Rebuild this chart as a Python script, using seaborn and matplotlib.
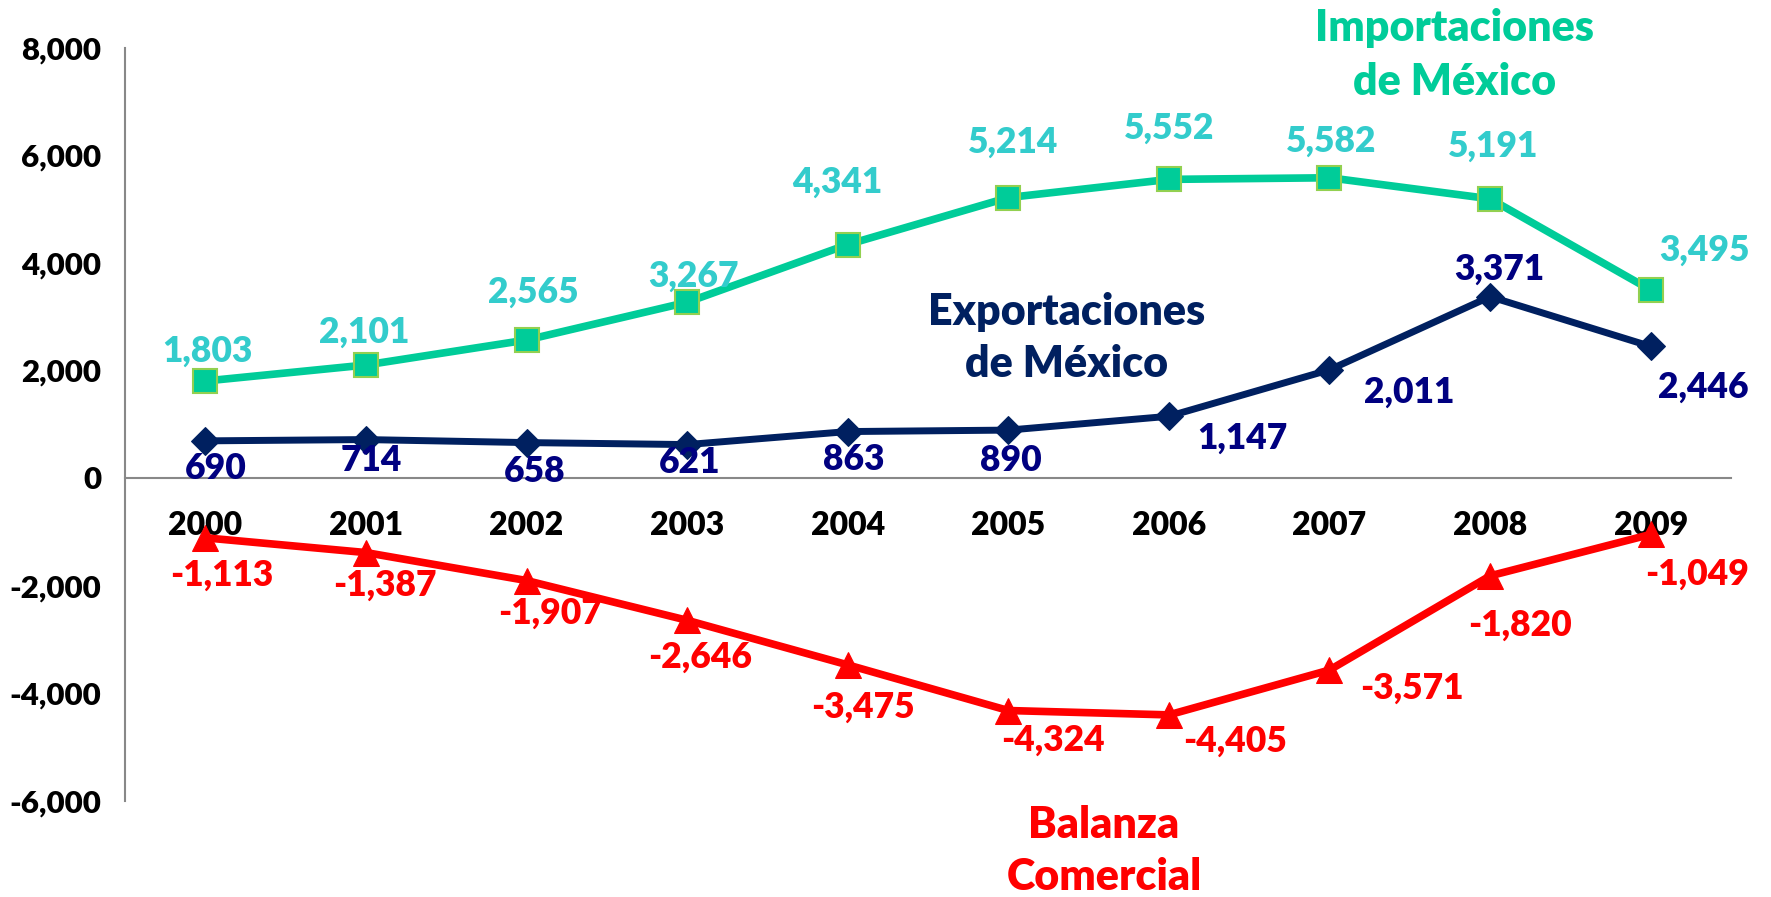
import matplotlib
matplotlib.use("Agg")
import numpy as np
import pandas as pd
import matplotlib.pyplot as plt
import seaborn as sns

# Data (millones de dólares)
years = ["2000", "2001", "2002", "2003", "2004", "2005", "2006", "2007", "2008", "2009"]
importaciones = [1803, 2101, 2565, 3267, 4341, 5214, 5552, 5582, 5191, 3495]
exportaciones = [690, 714, 658, 621, 863, 890, 1147, 2011, 3371, 2446]
balanza = [-1113, -1387, -1907, -2646, -3475, -4324, -4405, -3571, -1820, -1049]

# label offsets in pixels (dx, dy) for each data label
imp_off = [(2, 30), (-2, 33), (7, 48), (6, 26), (-10, 62), (5, 55), (0, 51), (2, 37), (3, 53), (54, 40)]
exp_off = [(10, -28), (5, -21), (8, -29), (3, -18), (6, -28), (3, -30), (73, -22), (80, -22), (9, 27), (53, -41)]
bal_off = [(16, -37), (19, -33), (24, -33), (13, -37), (15, -42), (45, -30), (66, -26), (82, -18), (30, -49), (46, -40)]

sns.set_style("white")
plt.rcParams["font.family"] = ["Lato", "DejaVu Sans"]
plt.rcParams["font.weight"] = "heavy"

GREEN = "#00CC99"
TEAL = "#33CCCC"
NAVY_LINE = "#002060"
NAVY_TXT = "#000080"
RED = "#FF0000"
W = "heavy"

fig = plt.figure(figsize=(17.71, 8.97), dpi=100)
ax = fig.add_axes([0.0706, 0.1074, 0.9068, 0.8394])

x = np.arange(len(years))
df = pd.DataFrame({"x": x, "imp": importaciones, "exp": exportaciones, "bal": balanza})

sns.lineplot(data=df, x="x", y="imp", ax=ax, color=GREEN, linewidth=5.5, marker="s",
             markersize=17, markerfacecolor=GREEN, markeredgecolor="#92D050", markeredgewidth=1.5)
sns.lineplot(data=df, x="x", y="exp", ax=ax, color=NAVY_LINE, linewidth=5, marker="D",
             markersize=14, markerfacecolor=NAVY_LINE, markeredgecolor=NAVY_LINE)
sns.lineplot(data=df, x="x", y="bal", ax=ax, color=RED, linewidth=5.5, marker="^",
             markersize=19, markerfacecolor=RED, markeredgecolor=RED)

ax.set_xlim(-0.5, len(years) - 0.5)
ax.set_ylim(-6000, 8000)
ax.set_yticks(np.arange(-6000, 8001, 2000))
ax.set_yticklabels([f"{v:,}" for v in range(-6000, 8001, 2000)])
ax.set_xlabel("")
ax.set_ylabel("")

# x axis at zero, boundary ticks, labels at category centers
ax.spines["bottom"].set_position(("data", 0))
ax.spines["top"].set_visible(False)
ax.spines["right"].set_visible(False)
for s in ["bottom", "left"]:
    ax.spines[s].set_color("#888888")
    ax.spines[s].set_linewidth(1.5)

ax.set_xticks(np.arange(-0.5, len(years), 1.0))
ax.set_xticklabels([])
ax.set_xticks(x, minor=True)
ax.set_xticklabels(years, minor=True)
ax.tick_params(axis="x", which="major", direction="out", length=7, width=1.5, color="#888888")
ax.tick_params(axis="x", which="minor", length=0, pad=24, labelsize=23, labelcolor="black")
ax.tick_params(axis="y", direction="out", length=7, width=1.5, color="#888888", pad=10,
               labelsize=22.5, labelcolor="black")
for lab in ax.get_xticklabels(minor=True) + ax.get_yticklabels():
    lab.set_fontweight(W)
ax.grid(False)

# data labels
for i in range(len(years)):
    ax.annotate(f"{importaciones[i]:,}", (x[i], importaciones[i]), xytext=imp_off[i],
                textcoords="offset pixels", ha="center", va="center", fontsize=25.5,
                color=TEAL, fontweight=W)
    ax.annotate(f"{exportaciones[i]:,}", (x[i], exportaciones[i]), xytext=exp_off[i],
                textcoords="offset pixels", ha="center", va="center", fontsize=25.5,
                color=NAVY_TXT, fontweight=W)
    ax.annotate(f"{balanza[i]:,}", (x[i], balanza[i]), xytext=bal_off[i],
                textcoords="offset pixels", ha="center", va="center", fontsize=25.5,
                color=RED, fontweight=W)

# series names
fig.text(1455 / 1771, 1 - 55 / 897, "Importaciones\nde México", ha="center", va="center",
         fontsize=31, color=GREEN, fontweight=W, linespacing=1.4)
fig.text(1067 / 1771, 1 - 338 / 897, "Exportaciones\nde México", ha="center", va="center",
         fontsize=31, color=NAVY_LINE, fontweight=W, linespacing=1.35)
fig.text(1104 / 1771, 1 - 851 / 897, "Balanza\nComercial", ha="center", va="center",
         fontsize=31, color=RED, fontweight=W, linespacing=1.35)

fig.savefig("out.png", dpi=100, facecolor="white")
